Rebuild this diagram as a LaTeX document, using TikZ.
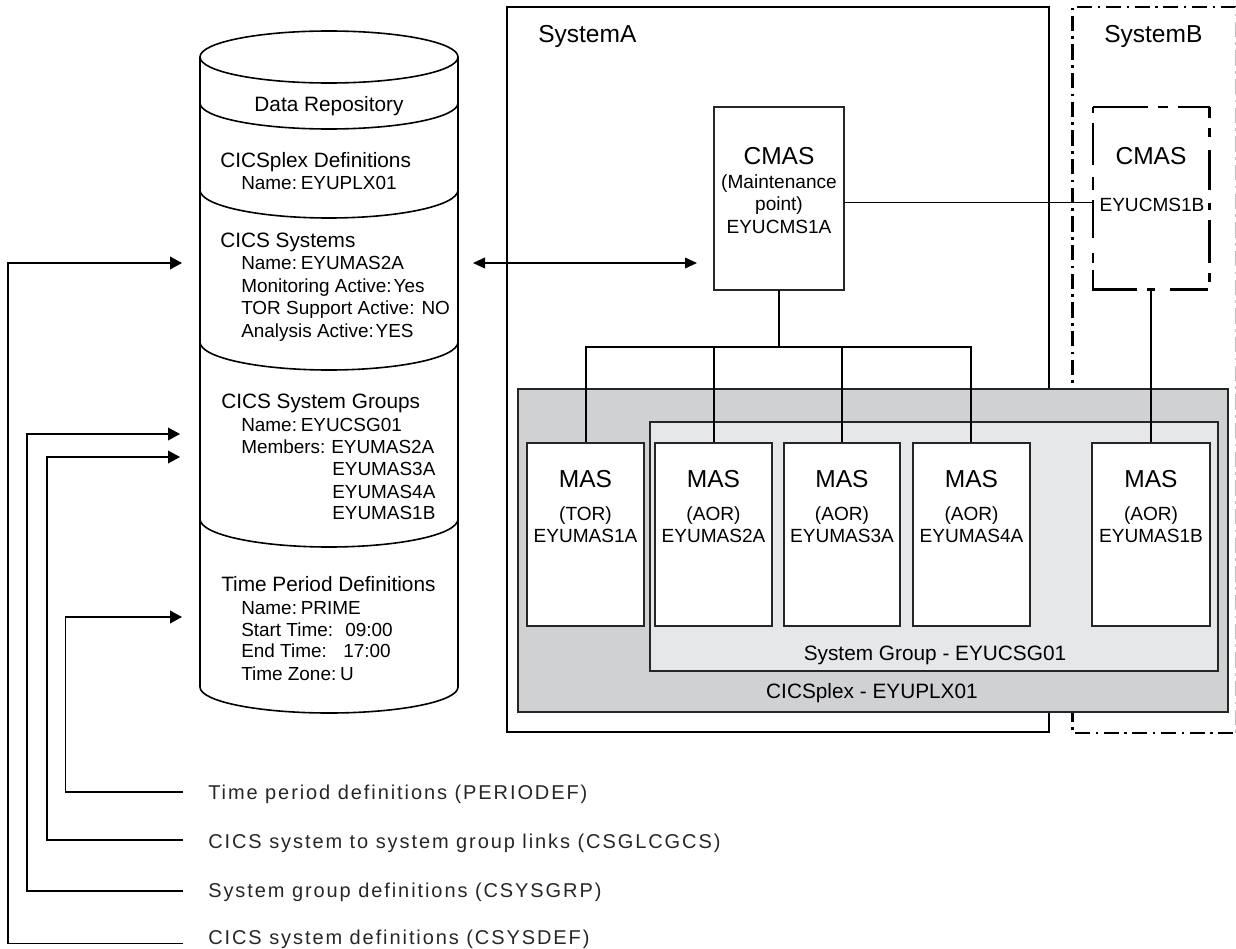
\documentclass[tikz,border=0pt]{standalone}
\usepackage{fontspec}
\setmainfont{Liberation Sans}
\usetikzlibrary{arrows.meta}
\definecolor{plexgrey}{RGB}{208,209,211}
\definecolor{groupgrey}{RGB}{230,231,232}
\newcommand{\fs}[1]{\fontsize{#1}{#1}\selectfont}
\newcommand{\cs}{\hspace{0.1em}}
\newcommand{\ns}{\hspace{0.2em}}
\tikzset{
  x=0.75pt,y=-0.75pt,
  thickline/.style={line width=1.9pt,black},
  thinline/.style={line width=1.2pt,black},
  boxline/.style={line width=1.5pt,draw=black!85},
  mas/.style={boxline,fill=white},
  head/.style={inner sep=0pt,anchor=base west,font=\fs{15.6}},
  sub/.style={inner sep=0pt,anchor=base west,font=\fs{14.2}},
  ctr/.style={inner sep=0pt,anchor=base,font=\fs{15.6}},
  small/.style={inner sep=0pt,anchor=base,font=\fs{14.3}},
  big/.style={inner sep=0pt,anchor=base,font=\fs{18.4}},
  keytxt/.style={inner sep=0pt,anchor=base west,text=black!85,font=\fs{15}\addfontfeature{LetterSpace=9.6}},
  wire/.style={thinline},
  arr/.style={thinline,-{Triangle[length=9pt,width=9.5pt]}},
  dbl/.style={thinline,{Triangle[length=9pt,width=8pt]}-{Triangle[length=9pt,width=8pt]}},
  dashdot/.style={line width=1.6pt,dash pattern=on 1.9pt off 4.1pt on 11.4pt off 4.1pt}
}
\begin{document}
\begin{tikzpicture}
\useasboundingbox (0,0) rectangle (1236,949);
% System boxes
\draw[thickline] (507,7) rectangle (1049,732);
\draw[dashdot] (1072.5,383) -- (1072.5,7) -- (1236,7);
\draw[line width=1.6pt,dash pattern=on 11.4pt off 4.1pt on 1.9pt off 4.1pt,dash phase=4.7pt] (1072.5,713) -- (1072.5,733) -- (1236,733);
\draw[line width=0.6pt,black!25,dash pattern=on 1.9pt off 4.1pt on 11.4pt off 4.1pt] (1235.5,733) -- (1235.5,7);
\node[head,font=\fs{18.4}] (sysa) at (538,43) {SystemA};
\node[head,font=\fs{18.4}] (sysb) at (1104,43) {SystemB};
% CICSplex and group
\draw[boxline,fill=plexgrey] (518,389) rectangle (1228,712);
\draw[boxline,fill=groupgrey] (650,422) rectangle (1218,671);
% CMAS
\draw[mas] (714,107) rectangle (844,290);
\coordinate (cmasAr) at (844,202.5);
\coordinate (cmasBl) at (1093,202.5);
\coordinate (cmasAb) at (779,290);
\coordinate (cmasBb) at (1151,289);
\foreach \a/\b in {107/113,123/165,177/190,200/238,253/263,270/289}{
  \draw[line width=1.6pt] (1093,\a) -- (1093,\b);}
\foreach \a/\b in {107/118,128/137,150/190,203/210,220/263,273/282}{
  \draw[line width=1.6pt] (1209.5,\a) -- (1209.5,\b);}
\foreach \a/\b in {1093/1148,1158/1168,1178/1210}{
  \draw[line width=1.6pt] (\a,107) -- (\b,107);}
\foreach \a/\b in {1092/1137,1147/1155,1170/1208}{
  \draw[line width=1.6pt] (\a,289.5) -- (\b,289.5);}
\node[big] (cmasa) at (779,164) {CMAS};
\node[small] (cmasa2) at (779,188) {(Maintenance};
\node[small] (cmasa3) at (779,210) {point)};
\node[small] (cmasa4) at (779,233) {EYUCMS1A};
\node[big] (cmasb) at (1151,165) {CMAS};
\node[small] (cmasb2) at (1152,211) {EYUCMS1B};
% wires
\draw[wire] (cmasAr) -- (cmasBl);
\draw[wire] (cmasBb) -- (1151,443);
\draw[wire] (cmasAb) -- (779,347);
\draw[wire] (586,443) -- (586,347) -- (971,347) -- (971,443);
\draw[wire] (714,347) -- (714,443);
\draw[wire] (842,347) -- (842,443);
% MAS
\foreach \n/\l/\r/\t/\e in {m1/527/644/TOR/EYUMAS1A,m2/655/772/AOR/EYUMAS2A,m3/784/900/AOR/EYUMAS3A,m4/913/1030/AOR/EYUMAS4A,m5/1092/1210/AOR/EYUMAS1B}{
  \draw[mas] (\l,443) rectangle (\r,626);
  \pgfmathsetmacro{\cx}{(\l+\r)/2}
  \node[big] (\n a) at (\cx,487) {MAS};
  \node[small] (\n b) at (\cx,520) {(\t)};
  \node[small] (\n c) at (\cx,542) {\e};
}
\node[ctr] (gl) at (935,660) {System Group - EYUCSG01};
\node[ctr] (pl) at (872,698) {CICSplex - EYUPLX01};
% Cylinder
\draw[thinline,fill=white] (200,57) -- (200,687) arc[start angle=180,end angle=0,x radius=129,y radius=26] -- (458,57);
\draw[thinline] (329,57) ellipse[x radius=129,y radius=26];
\foreach \yy/\rr in {103/26,190/28,342/28,519/28}{
  \draw[thinline] (200,\yy) arc[start angle=180,end angle=0,x radius=129,y radius=\rr];
}
\node[ctr] (dr) at (329,112) {Data Repository};
\node[head] (a1) at (220,167) {CICSplex Definitions};
\node[sub] (a2) at (241,190) {Name:\ns EYUPLX01};
\node[head] (b1) at (220,247) {CICS Systems};
\node[sub] (b2) at (241,269) {Name:\ns EYUMAS2A};
\node[sub] (b3) at (241,292) {Monitoring Active:\cs Yes};
\node[sub] (b4) at (241,314) {TOR Support Active: NO};
\node[sub] (b5) at (241,337) {Analysis Active:\cs YES};
\node[head] (c1) at (221,408) {CICS System Groups};
\node[sub] (c2) at (241,431) {Name:\ns EYUCSG01};
\node[sub] (c3) at (241,453) {\makebox[67.5pt][l]{Members:}EYUMAS2A};
\node[sub] (c4) at (332,475) {EYUMAS3A};
\node[sub] (c5) at (332,498) {EYUMAS4A};
\node[sub] (c6) at (332,519) {EYUMAS1B};
\node[head] (d1) at (221,591) {Time Period Definitions};
\node[sub] (d2) at (241,614) {Name:\ns PRIME};
\node[sub] (d3) at (241,636) {\makebox[78pt][l]{Start Time:}09:00};
\node[sub] (d4) at (241,657) {\makebox[76.5pt][l]{End Time:}17:00};
\node[sub] (d5) at (241,680) {Time Zone:\ns U};
\draw[dbl] (473,263) -- (697,263);
% key
\node[keytxt] (k1) at (208,799) {Time period definitions (PERIODEF)};
\node[keytxt] (k2) at (208,848) {CICS system to system group links (CSGLCGCS)};
\node[keytxt] (k3) at (208,897) {System group definitions (CSYSGRP)};
\node[keytxt] (k4) at (208,944) {CICS system definitions (CSYSDEF)};
\coordinate (e1) at (183,792);
\coordinate (e2) at (183,840);
\coordinate (e3) at (183,891);
\coordinate (e4) at (183,943.5);
\draw[arr] (e1) -- (65.5,792) -- (65.5,617) -- (182,617);
\draw[arr] (e2) -- (47,840) -- (47,457) -- (180,457);
\draw[arr] (e3) -- (27,891) -- (27,434) -- (180,434);
\draw[arr] (e4) -- (8,943.5) -- (8,263) -- (182,263);
\end{tikzpicture}
\end{document}
